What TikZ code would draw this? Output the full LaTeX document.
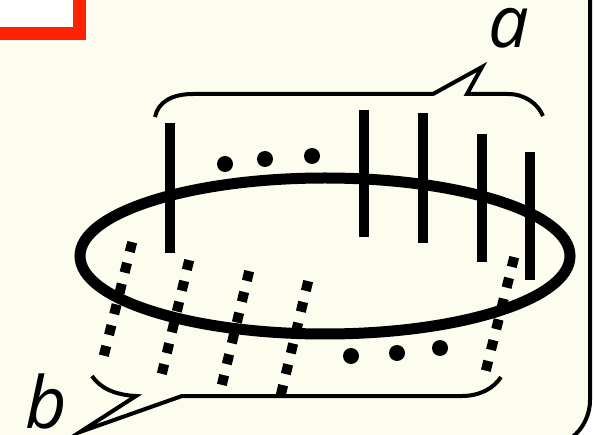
\documentclass[tikz,border=0pt]{standalone}
\usepackage{fontspec}
\setsansfont{Open Sans}
\usetikzlibrary{calc}
\definecolor{panelcream}{RGB}{252,253,238}
\definecolor{alertred}{RGB}{255,34,0}

\begin{document}
\begin{tikzpicture}[
		x=1pt, y=-1pt,
		% Scene styles
		panel/.style={
			fill=panelcream, draw=black,
			line width=4pt, rounded corners=48pt
		},
		redbox/.style={fill=white, draw=alertred, line width=13pt},
		ring/.style={draw=black, line width=11pt},
		solidbar/.style={draw=black, line width=10pt},
		ghostbar/.style={
			draw=black, line width=10pt,
			dash pattern=on 10pt off 11.4pt,
			shorten <=-5pt, shorten >=-5pt
		},
		bead/.style={circle, fill=black, minimum size=16pt, inner sep=0pt},
		brace/.style={draw=black, line width=4pt, line join=miter},
		tag/.style={font=\sffamily\itshape\fontsize{72}{72}\selectfont, inner sep=0pt}
	]

	\useasboundingbox (0,0) rectangle (594,435);
	\clip (0,0) rectangle (594,435);

	% Background panel and corner box
	\draw[panel] (-60,-60) rectangle (590,448);
	\draw[redbox] (-40,-40) rectangle (79.5,33.5);

	% Ring
	\draw[ring] (325,256) ellipse [x radius=245, y radius=78];

	% Solid bars (top end, bottom end)
	\coordinate (s1t) at (170,123);   \coordinate (s1b) at (170,253);
	\coordinate (s2t) at (363.5,110); \coordinate (s2b) at (363.5,237);
	\coordinate (s3t) at (422.5,113); \coordinate (s3b) at (422.5,243);
	\coordinate (s4t) at (482,134);   \coordinate (s4b) at (482,262);
	\coordinate (s5t) at (529.5,152); \coordinate (s5b) at (529.5,280);

	\draw[solidbar] (s1t) -- (s1b);
	\draw[solidbar] (s2t) -- (s2b);
	\draw[solidbar] (s3t) -- (s3b);
	\draw[solidbar] (s4t) -- (s4b);
	\draw[solidbar] (s5t) -- (s5b);

	% Dotted bars
	\coordinate (g1t) at (131,247); \coordinate (g1b) at (105,351);
	\coordinate (g2t) at (188,265); \coordinate (g2b) at (163,369);
	\coordinate (g3t) at (248,276); \coordinate (g3b) at (223,380);
	\coordinate (g4t) at (307,286); \coordinate (g4b) at (282,390);
	\coordinate (g5t) at (513,262); \coordinate (g5b) at (487,366);

	\draw[ghostbar] (g1t) -- (g1b);
	\draw[ghostbar] (g2t) -- (g2b);
	\draw[ghostbar] (g3t) -- (g3b);
	\draw[ghostbar] (g4t) -- (g4b);
	\draw[ghostbar] (g5t) -- (g5b);

	% Ellipsis dots
	\node[bead] (up1) at (225,164) {};
	\node[bead] (up2) at (265,159) {};
	\node[bead] (up3) at (312,156) {};
	\node[bead] (lo1) at (351,356) {};
	\node[bead] (lo2) at (397,353) {};
	\node[bead] (lo3) at (440,348) {};

	% Braces with pointers
	\coordinate (tipa) at (482,67);
	\coordinate (tipb) at (80,432);
	\draw[brace] (155,117) .. controls (158,102) and (172,94) .. (193,94)
		-- (433,94) -- (tipa) -- (467,94) -- (508,94)
		.. controls (525,94) and (538,104) .. (543,116);
	\draw[brace] (92,376) .. controls (100,388) and (115,395) .. (136,396)
		-- (tipb) -- (182,396) -- (462,396)
		.. controls (480,396) and (494,388) .. (501,377);

	% Labels
	\node[tag] (lbla) at (509,28) {a};
	\node[tag] (lblb) at (46,401) {b};

\end{tikzpicture}
\end{document}
